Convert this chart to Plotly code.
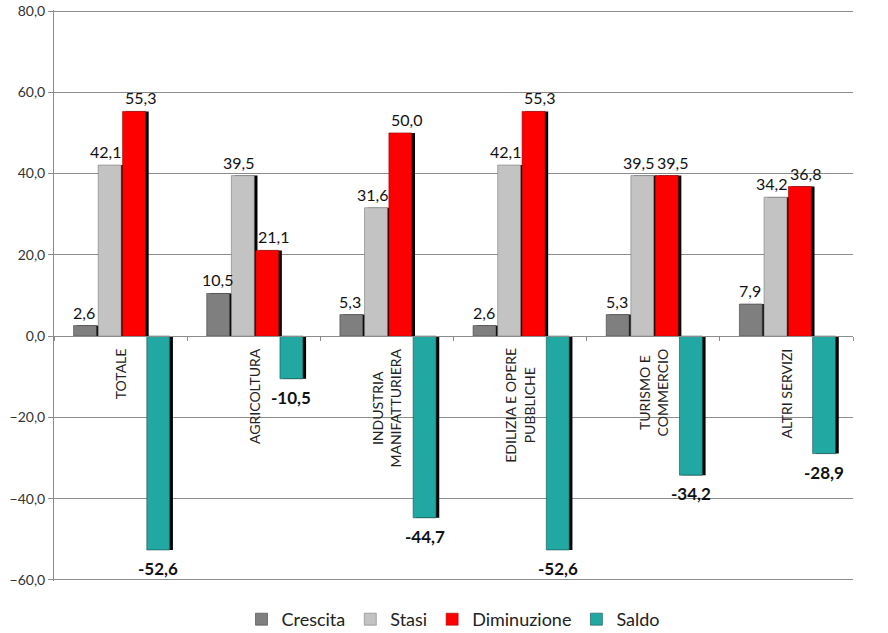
import plotly.graph_objects as go

categories = ["TOTALE", "AGRICOLTURA", "INDUSTRIA<br>MANIFATTURIERA",
              "EDILIZIA E OPERE<br>PUBBLICHE", "TURISMO E<br>COMMERCIO", "ALTRI SERVIZI"]
crescita = [2.6, 10.5, 5.3, 2.6, 5.3, 7.9]
stasi = [42.1, 39.5, 31.6, 42.1, 39.5, 34.2]
diminuzione = [55.3, 21.1, 50.0, 55.3, 39.5, 36.8]
saldo = [-52.6, -10.5, -44.7, -52.6, -34.2, -28.9]
y_ticks = [-60, -40, -20, 0, 20, 40, 60, 80]

FONT = "Lato, 'Open Sans', sans-serif"
W = 0.172
# name, values, fill, edge, bar offset, bold label, label nudge (px)
series = [
    ("Crescita", crescita, "#7f7f7f", "#404040", -0.353, False, -1),
    ("Stasi", stasi, "#c3c3c3", "#7a7a7a", -0.168, False, -4),
    ("Diminuzione", diminuzione, "#ff0000", "#a00000", 0.015, False, 6),
    ("Saldo", saldo, "#22a8a3", "#124f4b", 0.197, True, 0),
]
SH = 0.024
Y_LO, Y_HI = -60.25, 80.25

fig = go.Figure()
# shadows
for name, vals, col, lc, off, bold, nudge in series:
    fig.add_trace(go.Bar(
        x=categories, y=vals, width=W, offset=off + SH,
        marker=dict(color="#000000", line=dict(width=0)),
        showlegend=False, hoverinfo="skip",
    ))
for name, vals, col, lc, off, bold, nudge in series:
    fig.add_trace(go.Bar(
        name=name, x=categories, y=vals, width=W, offset=off,
        marker=dict(color=col, line=dict(color=lc, width=0.6)),
    ))
    # value labels
    for i, v in enumerate(vals):
        fig.add_annotation(
            x=i + off + W / 2, y=v, xref="x", yref="y",
            text=f"{v:.1f}".replace(".", ","), showarrow=False,
            xanchor="center", yanchor="bottom" if v >= 0 else "top",
            yshift=2 if v >= 0 else -6, xshift=nudge,
            font=dict(family=FONT, size=17 if bold else 16, color="#111111",
                      weight="bold" if bold else "normal"),
        )

for i, c in enumerate(categories):
    fig.add_annotation(
        x=i, y=0, xref="x", yref="y", text=c, textangle=-90,
        xanchor="center", yanchor="top", yshift=-10, showarrow=False,
        align="center", font=dict(family=FONT, size=14, color="#222222"),
    )

fig.update_layout(
    width=888, height=633,
    margin=dict(l=54, r=35, t=10, b=52, autoexpand=False),
    plot_bgcolor="white", paper_bgcolor="white",
    barmode="overlay", separators=",.",
    font=dict(family=FONT, size=14, color="#333333"),
    legend=dict(orientation="h", x=0.5, xanchor="center", y=-0.035, yanchor="top",
                font=dict(family=FONT, size=18, color="#222222"),
                itemwidth=30, tracegroupgap=0),
    showlegend=True,
)
fig.update_yaxes(
    range=[Y_LO, Y_HI], tickvals=y_ticks, tickformat=".1f", automargin=False,
    showgrid=True, gridcolor="#8c8c8c", gridwidth=1,
    showline=True, linecolor="#8c8c8c", linewidth=1,
    ticks="outside", ticklen=5, tickcolor="#8c8c8c", ticklabeloverflow="allow",
    zeroline=False, tickfont=dict(family=FONT, size=14, color="#333333"),
)
fig.update_xaxes(
    range=[-0.5, 5.5], showticklabels=False, tickson="boundaries", automargin=False,
    ticks="outside", ticklen=4, tickcolor="#8c8c8c",
    showline=True, linecolor="#8c8c8c", linewidth=1,
    anchor="free", position=(0 - Y_LO) / (Y_HI - Y_LO), showgrid=False,
)

fig.write_html("out.html", config={"displayModeBar": False},
               post_script="document.body.style.margin='0';")
